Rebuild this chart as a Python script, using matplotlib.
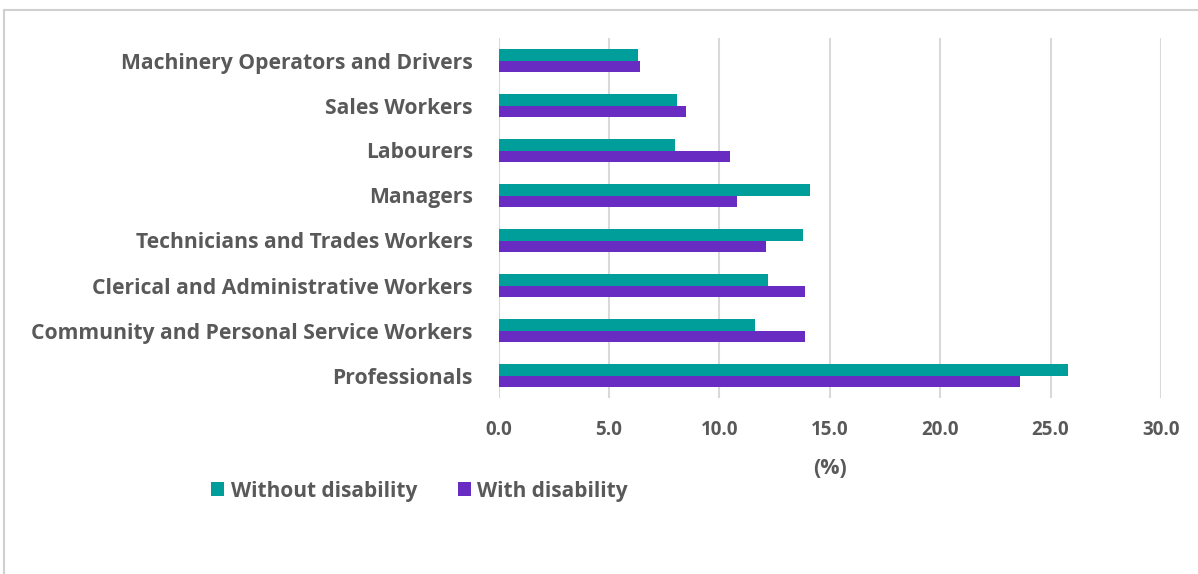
import matplotlib.pyplot as plt
import matplotlib.patches as mpatches
import numpy as np

occupations = ["Machinery Operators and Drivers", "Sales Workers", "Labourers", "Managers",
               "Technicians and Trades Workers", "Clerical and Administrative Workers",
               "Community and Personal Service Workers", "Professionals"]
without_dis = [6.3, 8.1, 8.0, 14.1, 13.8, 12.2, 11.6, 25.8]
with_dis = [6.4, 8.5, 10.5, 10.8, 12.1, 13.9, 13.9, 23.6]
xticks = [0, 5, 10, 15, 20, 25, 30]

teal = "#009E9A"
purple = "#692CC3"
txt = "#595959"

plt.rcParams['font.family'] = ['Open Sans', 'DejaVu Sans']

fig = plt.figure(figsize=(11.98, 5.74), dpi=100)
ax = fig.add_axes([498.5 / 1198, 1 - 398 / 574, (1161 - 498.5) / 1198, 360 / 574])

# outer frame, cut off at right and bottom
fig.patches.append(mpatches.Rectangle((4 / 1198, -0.1), 1.2, 1 - 9.5 / 574 + 0.1,
                                      transform=fig.transFigure, fill=False,
                                      edgecolor="#D0D0D0", linewidth=1.5))

y = np.arange(len(occupations))
h = 0.245
ax.barh(y - h / 2, without_dis, height=h, color=teal, label="Without disability")
ax.barh(y + h / 2, with_dis, height=h, color=purple, label="With disability")

ax.set_ylim(-0.5, len(occupations) - 0.5)
ax.invert_yaxis()
ax.set_xlim(0, 30)
ax.set_xticks(xticks)
ax.set_xticklabels([f"{v:.1f}" for v in xticks], fontsize=13.5, fontweight="bold", color=txt)
ax.set_yticks(y)
ax.set_yticklabels(occupations, fontsize=15.2, fontweight="bold", color=txt)
ax.tick_params(axis="both", length=0)
ax.tick_params(axis="x", pad=16)
ax.tick_params(axis="y", pad=18.5)
ax.grid(axis="x", color="#D9D9D9", linewidth=1.5)
ax.set_axisbelow(True)
for s in ax.spines.values():
    s.set_visible(False)

ax.set_xlabel("(%)", fontsize=15.5, fontweight="bold", color=txt, labelpad=13)

fig.legend(loc="center left", bbox_to_anchor=(192 / 1198, 1 - 491 / 574), ncol=2,
           frameon=False, handlelength=0.65, handleheight=0.65, handletextpad=0.3,
           columnspacing=1.95, prop={"size": 15, "weight": "bold"}, labelcolor=txt)

fig.savefig("out.png", dpi=100)
